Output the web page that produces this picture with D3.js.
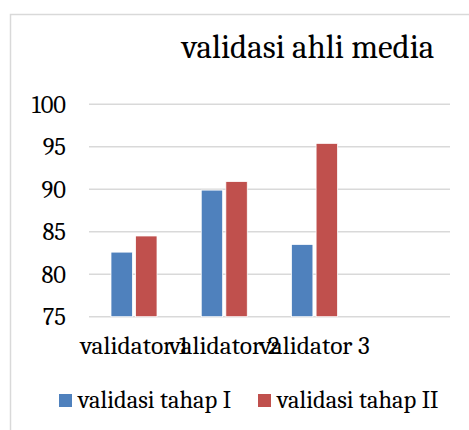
<!DOCTYPE html>
<html>
<head>
<meta charset="utf-8">
<script src="https://cdn.jsdelivr.net/npm/d3@7"></script>
</head>
<body style="margin:0; background:#fff">
<svg id="chart" width="469" height="430"></svg>
<script>
// chart data
const categories = ["validator 1", "validator 2", "validator 3", ""];
const seriesNames = ["validasi tahap I", "validasi tahap II"];
const tahap1 = [82.6, 89.9, 83.5];
const tahap2 = [84.5, 90.9, 95.4];
const yTicks = [75, 80, 85, 90, 95, 100];
const colors = ["#4F81BD", "#C0504D"];

const fontFam = "'Cambria', 'Liberation Serif', serif";

let svg = d3.select("#chart");

// outer chart frame (runs off the right / bottom edge)
svg.append("rect")
  .attr("x", 10.5).attr("y", 14.5)
  .attr("width", 500).attr("height", 500)
  .attr("fill", "none")
  .attr("stroke", "#d9d9d9")
  .attr("stroke-width", 1.5);

let plotLeft = 89, plotRight = 450, plotTop = 104.3, plotBottom = 316.7;

let xScale = d3.scaleBand()
  .domain(categories)
  .range([plotLeft, plotRight]);

let x1 = d3.scaleBand()
  .domain(seriesNames)
  .range([22, 68])
  .paddingInner(0.13);

let yScale = d3.scaleLinear()
  .domain([75, 100])
  .range([plotBottom, plotTop]);

// gridlines
svg.append("g")
  .selectAll("line")
  .data(yTicks)
  .enter().append("line")
  .attr("x1", plotLeft).attr("x2", plotRight)
  .attr("y1", d => yScale(d)).attr("y2", d => yScale(d))
  .attr("stroke", "#d9d9d9")
  .attr("stroke-width", 1.5);

// y axis labels
let yAxis = d3.axisLeft(yScale).tickValues(yTicks).tickSize(0).tickPadding(0);
svg.append("g")
  .attr("transform", "translate(66,0)")
  .call(yAxis)
  .call(g => g.select(".domain").remove())
  .selectAll("text")
  .style("font-family", fontFam)
  .style("font-size", "24.5px")
  .attr("fill", "#000");

// bars
let rows = categories.slice(0, 3).map((c, i) => ({ cat: c, vals: [tahap1[i], tahap2[i]] }));
let groups = svg.append("g").selectAll("g")
  .data(rows)
  .enter().append("g")
  .attr("transform", d => "translate(" + xScale(d.cat) + ",0)");

groups.selectAll("rect")
  .data(d => d.vals.map((v, j) => ({ name: seriesNames[j], v: v, j: j })))
  .enter().append("rect")
  .attr("x", d => x1(d.name))
  .attr("width", x1.bandwidth())
  .attr("y", d => yScale(d.v))
  .attr("height", d => plotBottom - yScale(d.v))
  .attr("fill", d => colors[d.j])
  .attr("stroke", "#fff")
  .attr("stroke-width", 0.75);

// x axis labels (they overlap in the original too)
let xAxis = d3.axisBottom(xScale).tickSize(0).tickPadding(0);
svg.append("g")
  .attr("transform", "translate(0,336)")
  .call(xAxis)
  .call(g => g.select(".domain").remove())
  .selectAll("text")
  .style("font-family", fontFam)
  .style("font-size", "25.5px")
  .attr("fill", "#000");

// title
svg.append("text")
  .attr("x", 308).attr("y", 58)
  .attr("text-anchor", "middle")
  .style("font-family", fontFam)
  .style("font-size", "33px")
  .text("validasi ahli media");

// legend
let legendX = [59, 258];
let legend = svg.append("g").selectAll("g")
  .data(seriesNames)
  .enter().append("g")
  .attr("transform", (d, i) => "translate(" + legendX[i] + ",394)");
legend.append("rect")
  .attr("width", 13).attr("height", 13)
  .attr("fill", (d, i) => colors[i]);
legend.append("text")
  .attr("x", 19).attr("y", 14)
  .style("font-family", fontFam)
  .style("font-size", "24.5px")
  .text(d => d);
</script>
</body>
</html>
